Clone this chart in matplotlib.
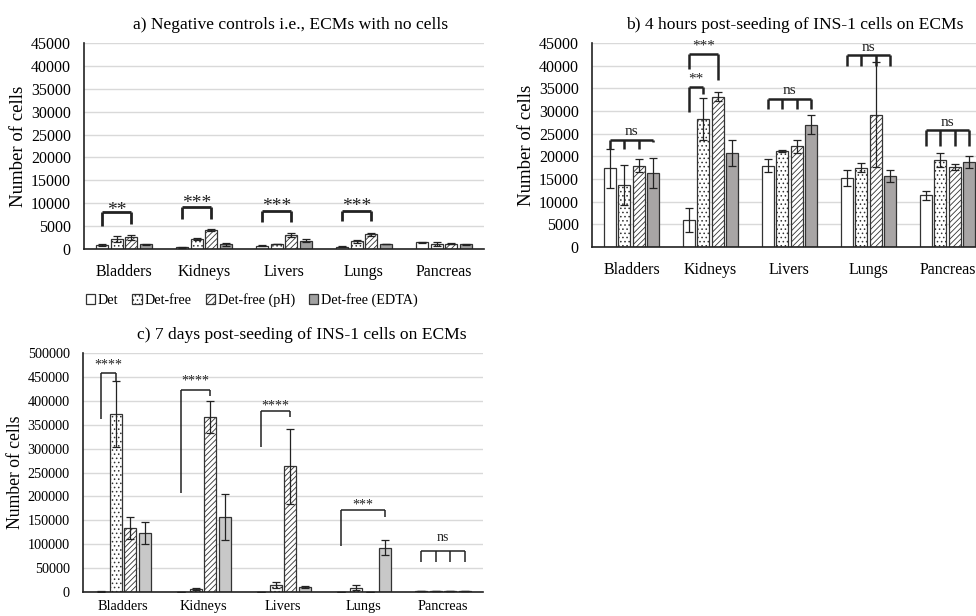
import numpy as np
import matplotlib
matplotlib.use("Agg")
import matplotlib.pyplot as plt
from matplotlib.patches import Patch

plt.rcParams['font.family'] = ['Liberation Serif', 'DejaVu Serif']
plt.rcParams['hatch.linewidth'] = 0.6

organs = ['Bladders', 'Kidneys', 'Livers', 'Lungs', 'Pancreas']
methods = ['Det', 'Det-free', 'Det-free (pH)', 'Det-free (EDTA)']

# a) negative controls
a_det = [900, 400, 700, 500, 1450]
a_det_err = [300, 100, 100, 100, 100]
a_free = [2200, 2100, 1100, 1650, 1150]
a_free_err = [700, 200, 100, 300, 400]
a_ph = [2550, 4150, 3100, 3200, 1150]
a_ph_err = [600, 200, 500, 400, 100]
a_edta = [1000, 1000, 1800, 1100, 1000]
a_edta_err = [200, 300, 300, 50, 100]

# b) 4 hours post-seeding
b_det = [17350, 5950, 17950, 15150, 11400]
b_det_err = [4300, 2600, 1500, 1750, 950]
b_free = [13750, 28250, 21100, 17500, 19250]
b_free_err = [4400, 4600, 200, 1050, 1500]
b_ph = [17950, 33100, 22200, 29200, 17650]
b_ph_err = [1500, 1000, 1500, 11500, 600]
b_edta = [16400, 20750, 27000, 15650, 18750]
b_edta_err = [3300, 2800, 2100, 1250, 1300]

# c) 7 days post-seeding
c_det = [1000, 500, 500, 300, 1500]
c_det_err = [300, 200, 200, 100, 300]
c_free = [371700, 7000, 14000, 9000, 1500]
c_free_err = [69000, 2000, 6000, 5000, 400]
c_ph = [133900, 366100, 262900, 800, 1500]
c_ph_err = [22000, 33000, 79000, 200, 300]
c_edta = [123400, 157600, 11000, 92700, 2000]
c_edta_err = [22000, 48000, 2000, 16000, 500]

# significance brackets: (organ, first bar, last bar, top, leg bottoms, label, label y)
a_sig = [(0, 0, 2, 8000, [5100, 5450], '**', 6600),
         (1, 0, 2, 9100, [6500, 6500], '***', 8100),
         (2, 0, 2, 8400, [6000, 6000], '***', 7400),
         (3, 0, 2, 8400, [6100, 6100], '***', 7400)]
b_sig = [(0, 0, 3, 23700, [21700, 21700, 21700, 23150], 'ns', 24000),
         (1, 0, 1, 35300, [29800, 33800], '**', 35600),
         (1, 0, 2, 42650, [39350, 36900], '***', 42950),
         (2, 0, 3, 32700, [30500, 30500, 30500, 30500], 'ns', 33000),
         (3, 0, 3, 42300, [39850, 39850, 39850, 39850], 'ns', 42600),
         (4, 0, 3, 25700, [22300, 22300, 22300, 22300], 'ns', 26000)]
c_sig = [(0, 0, 1, 458000, [362000, 441500], '****', 462000),
         (1, 0, 2, 423000, [207000, 409000], '****', 427000),
         (2, 0, 2, 378600, [303000, 366000], '****', 375000),
         (3, 0, 3, 172200, [95500, 157000], '***', 168000),
         (4, 0, 3, 85000, [62000, 62000, 62000, 62000], 'ns', 100000)]

step = 0.18
width = 0.15
offsets = [-1.5 * step, -0.5 * step, 0.5 * step, 1.5 * step]
hatches = ['', '....', '//////', '']


def panel(ax, series, errs, grey, title, tx, ymax, ystep, sig, blw, sig_fs, xpad,
          tick_fs=11.5, lab_fs=13.5):
    x = np.arange(len(organs))
    for i in range(4):
        face = grey if i == 3 else 'white'
        ax.bar(x + offsets[i], series[i], width, color=face, edgecolor='#333333',
               linewidth=0.9, hatch=hatches[i], zorder=2)
        ax.errorbar(x + offsets[i], series[i], yerr=errs[i], fmt='none',
                    ecolor='#222222', elinewidth=0.9, capsize=3, capthick=0.9, zorder=3)
    for org, i0, i1, top, legs, lab, ty in sig:
        xs = [org + offsets[k] for k in range(i0, i1 + 1)]
        if len(legs) == 2:
            xs = [xs[0], xs[-1]]
        ax.plot([xs[0], xs[-1]], [top, top], color='#222222', lw=blw, zorder=4,
                solid_capstyle='butt')
        for xx, lb in zip(xs, legs):
            ax.plot([xx, xx], [lb, top], color='#222222', lw=blw, zorder=4,
                    solid_capstyle='butt')
        ax.text((xs[0] + xs[-1]) / 2, ty, lab, ha='center', va='bottom',
                fontsize=sig_fs, color='#222222')
    ax.set_xlim(-0.5, len(organs) - 0.5)
    ax.set_ylim(0, ymax)
    ax.set_yticks(np.arange(0, ymax + 1, ystep))
    ax.set_xticks(x)
    ax.set_xticklabels(organs)
    ax.tick_params(axis='both', length=0, labelsize=tick_fs)
    ax.tick_params(axis='y', pad=9.5)
    ax.tick_params(axis='x', pad=xpad)
    ax.grid(axis='y', color='#d9d9d9', linewidth=1, zorder=0)
    ax.set_axisbelow(True)
    for s in ['top', 'right']:
        ax.spines[s].set_visible(False)
    ax.spines['left'].set_color('#222222')
    ax.spines['bottom'].set_color('#222222')
    ax.spines['left'].set_linewidth(1.2)
    ax.spines['bottom'].set_linewidth(1.2)
    ax.set_ylabel('Number of cells', fontsize=lab_fs, labelpad=3)
    ax.set_title(title, fontsize=12.6, pad=10, x=tx)


fig = plt.figure(figsize=(9.76, 6.16), dpi=100)
ax_a = fig.add_axes([84 / 976, 1 - 249 / 616, 400 / 976, 206 / 616])
ax_b = fig.add_axes([592 / 976, 1 - 247 / 616, 395 / 976, 204 / 616])
ax_c = fig.add_axes([83 / 976, 1 - 592 / 616, 400 / 976, 239 / 616])

panel(ax_a, [a_det, a_free, a_ph, a_edta], [a_det_err, a_free_err, a_ph_err, a_edta_err],
      '#a0a0a0', 'a) Negative controls i.e., ECMs with no cells', 0.5175,
      45000, 5000, a_sig, 2.0, 14, 11)
panel(ax_b, [b_det, b_free, b_ph, b_edta], [b_det_err, b_free_err, b_ph_err, b_edta_err],
      '#a8a5a5', 'b) 4 hours post-seeding of INS-1 cells on ECMs', 0.513,
      45000, 5000, b_sig, 1.8, 11, 11)
panel(ax_c, [c_det, c_free, c_ph, c_edta], [c_det_err, c_free_err, c_ph_err, c_edta_err],
      '#c8c8c8', 'c) 7 days post-seeding of INS-1 cells on ECMs', 0.5475,
      500000, 50000, c_sig, 1.1, 10, 6, tick_fs=10.3, lab_fs=12.7)

handles = [Patch(facecolor='white' if i < 3 else '#a0a0a0', edgecolor='#333333',
                 hatch=hatches[i], linewidth=0.9) for i in range(4)]
fig.legend(handles, methods, loc='center left', bbox_to_anchor=(80 / 976, 1 - 300 / 616),
           ncol=4, frameon=False, fontsize=10.2, handlelength=0.65, handleheight=0.65,
           handletextpad=0.2, columnspacing=1.0, borderaxespad=0)

fig.savefig('out.png', dpi=100)
